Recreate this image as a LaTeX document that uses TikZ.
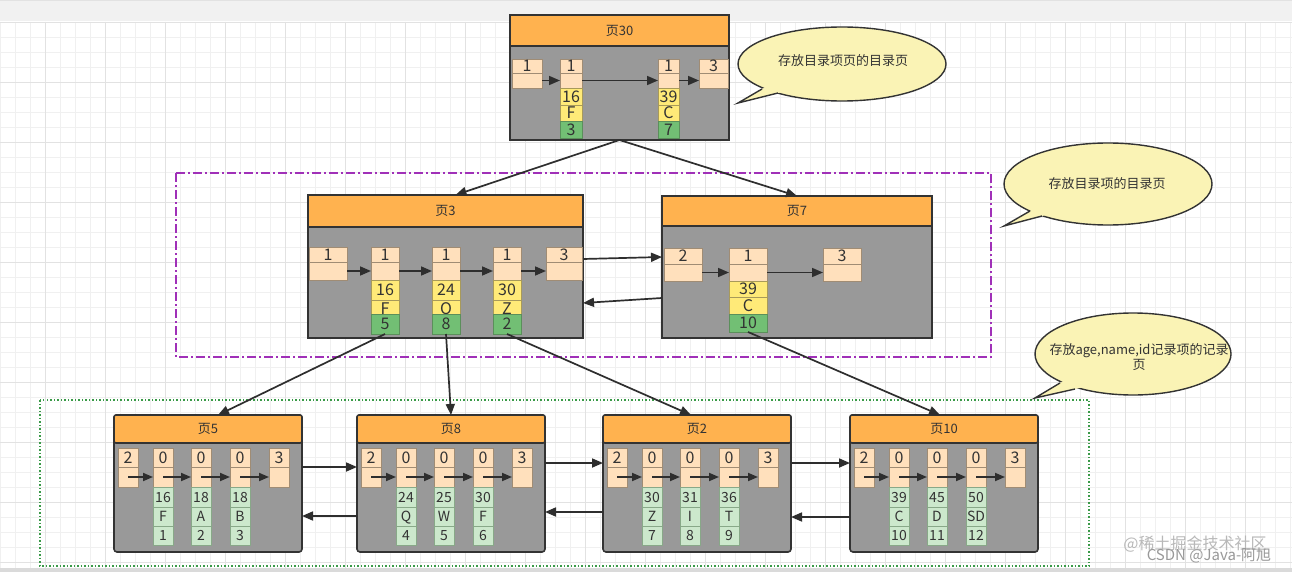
\documentclass[tikz,border=0pt]{standalone}
\usepackage{fontspec}
\setmainfont{Noto Sans CJK SC}
\usetikzlibrary{arrows.meta,calc,shapes.geometric}
\definecolor{hdrc}{HTML}{FFB24F}
\definecolor{pagec}{HTML}{999999}
\definecolor{framec}{HTML}{333333}
\definecolor{peach}{HTML}{FFE0BC}
\definecolor{peachb}{HTML}{A08C74}
\definecolor{yel}{HTML}{FFEA78}
\definecolor{yelb}{HTML}{A89A5A}
\definecolor{grn}{HTML}{72BF74}
\definecolor{grnb}{HTML}{5B8F5B}
\definecolor{lgrn}{HTML}{CCE8CC}
\definecolor{lgrnb}{HTML}{88A888}
\definecolor{callc}{HTML}{FAF3B5}
\definecolor{purp}{HTML}{A030B8}
\definecolor{dgreen}{HTML}{3A9A48}
\definecolor{arrc}{HTML}{2E2E2E}
\definecolor{txtc}{HTML}{333333}
\definecolor{gridmin}{HTML}{F0F0F0}
\definecolor{gridmaj}{HTML}{E2E2E2}
\definecolor{topband}{HTML}{F1F1F1}
\definecolor{botband}{HTML}{DADADA}

\newcommand{\mkcell}[7]{%
  \pgfmathsetmacro\cellw{#5-(#3)}\pgfmathsetmacro\cellh{#6-(#4)}%
  \node[#2,minimum width=\cellw pt,minimum height=\cellh pt,anchor=north west] (#1) at (#3,#4) {#7};}

% directory column: name, x1, x2, ytop, top text, yellow1, yellow2, green
\newcommand{\dircol}[8]{%
  \pgfmathsetmacro\yA{#4+\hA}\pgfmathsetmacro\yB{\yA+\hB}\pgfmathsetmacro\yC{\yB+\hC}%
  \pgfmathsetmacro\yD{\yC+\hD}\pgfmathsetmacro\yE{\yD+\hE}%
  \mkcell{#1a}{pc}{#2}{#4}{#3}{\yA}{#5}%
  \mkcell{#1b}{pc}{#2}{\yA}{#3}{\yB}{}%
  \mkcell{#1c}{yc}{#2}{\yB}{#3}{\yC}{#6}%
  \mkcell{#1d}{yc}{#2}{\yC}{#3}{\yD}{#7}%
  \mkcell{#1e}{gc}{#2}{\yD}{#3}{\yE}{#8}}

% record page: name, left, title
\newcommand{\recpage}[3]{%
  \pgfmathsetmacro\bxr{#2+188}%
  \mkcell{#1}{pagebox,rounded corners=3pt}{#2}{415}{\bxr}{552}{}%
  \mkcell{#1h}{hdr,rounded corners=2pt}{#2}{415}{\bxr}{443}{#3}%
  \pgfmathsetmacro\bxa{#2+4}\pgfmathsetmacro\bxb{#2+24}%
  \mkcell{#1la}{pc}{\bxa}{448}{\bxb}{467}{2}%
  \mkcell{#1lb}{pc}{\bxa}{467}{\bxb}{487}{}%
  \pgfmathsetmacro\bxa{#2+155}\pgfmathsetmacro\bxb{#2+175}%
  \mkcell{#1ra}{pc}{\bxa}{448}{\bxb}{467}{3}%
  \mkcell{#1rb}{pc}{\bxa}{467}{\bxb}{487}{}}

% record column: name, x1, g1, g2, g3
\newcommand{\reccol}[5]{%
  \pgfmathsetmacro\bxc{#2+20}%
  \mkcell{#1a}{pc}{#2}{448}{\bxc}{467}{0}%
  \mkcell{#1b}{pc}{#2}{467}{\bxc}{487}{}%
  \mkcell{#1c}{lg}{#2}{487}{\bxc}{507}{#3}%
  \mkcell{#1d}{lg}{#2}{507}{\bxc}{526}{#4}%
  \mkcell{#1e}{lg}{#2}{526}{\bxc}{545}{#5}}

\newcommand{\recarrows}[1]{%
  \draw[sarr] (#1lb.center) -- (#1c1b.west);
  \draw[sarr] (#1c1b.center) -- (#1c2b.west);
  \draw[sarr] (#1c2b.center) -- (#1c3b.west);
  \draw[sarr] (#1c3b.center) -- (#1rb.west);}

% bubble: name, cx, cy, w, h, b1, tip, b2
\newcommand{\bubble}[8]{%
  \node[ellipse,fill=callc,draw=framec,line width=1.4pt,inner sep=0pt,
        minimum width=#4pt,minimum height=#5pt] (#1) at (#2,#3) {};
  \fill[callc] ($(#7)!1.3!(#6)$) -- (#7) -- ($(#7)!1.3!(#8)$) -- cycle;
  \draw[framec,line width=1.4pt,line join=miter] (#6) -- (#7) -- (#8);}

\begin{document}
\begin{tikzpicture}[x=1pt,y=-1pt,
  cellbase/.style={inner sep=0pt,outer sep=0pt,line width=0.8pt,text=txtc},
  pc/.style={cellbase,fill=peach,draw=peachb,font=\fontsize{16}{18}\selectfont,text height=11.5pt,text depth=0pt},
  yc/.style={cellbase,fill=yel,draw=yelb,font=\fontsize{16}{18}\selectfont,text height=11.5pt,text depth=0pt},
  gc/.style={cellbase,fill=grn,draw=grnb,font=\fontsize{16}{18}\selectfont,text height=11.5pt,text depth=0pt},
  lg/.style={cellbase,fill=lgrn,draw=lgrnb,font=\fontsize{14}{16}\selectfont,text height=10pt,text depth=0pt},
  pagebox/.style={fill=pagec,draw=framec,line width=1.6pt,inner sep=0pt,outer sep=0pt},
  hdr/.style={fill=hdrc,draw=framec,line width=1.6pt,inner sep=0pt,outer sep=0pt,font=\fontsize{13}{15}\selectfont,text=txtc},
  arr/.style={draw=arrc,line width=1.7pt,-{Triangle[length=11pt,width=9pt]}},
  sarr/.style={draw=arrc,line width=1.8pt,-{Triangle[length=10pt,width=8pt]}},
  btext/.style={font=\fontsize{13}{15}\selectfont,text=txtc,inner sep=0pt,align=center},
  wm/.style={inner sep=0pt,font=\fontsize{16}{18}\selectfont},
]
\useasboundingbox (0,0) rectangle (1292,572);
\fill[white] (0,0) rectangle (1292,572);
\fill[topband] (0,0) rectangle (1292,21);
\draw[gridmaj,line width=0.8pt] (0,0.5) -- (1292,0.5);
\foreach \i in {0,15,...,1290} \draw[gridmin,line width=0.7pt] (\i,22) -- (\i,568);
\foreach \j in {22,37,...,567} \draw[gridmin,line width=0.7pt] (0,\j) -- (1292,\j);
\foreach \i in {45,105,...,1290} \draw[gridmaj,line width=0.7pt] (\i,22) -- (\i,568);
\foreach \j in {22,82,...,567} \draw[gridmaj,line width=0.7pt] (0,\j) -- (1292,\j);
\fill[botband] (0,568) rectangle (1292,572);

% group frames
\draw[purp,line width=1.3pt,dash pattern=on 9pt off 3pt on 2pt off 3pt] (176,173) rectangle (991,357);
\draw[dgreen,line width=1.4pt,dash pattern=on 1.5pt off 2pt] (40,400) rectangle (1089,566);

% ---------- page 30 ----------
\mkcell{p30}{pagebox}{510}{15}{729}{140}{}
\mkcell{p30h}{hdr}{510}{15}{729}{46}{页30}
\mkcell{t1a}{pc}{512}{59}{542}{73}{1}
\mkcell{t1b}{pc}{512}{73}{542}{88}{}
\def\hA{14}\def\hB{15}\def\hC{17}\def\hD{16}\def\hE{17}
\dircol{tA}{560}{582}{59}{1}{16}{F}{3}
\dircol{tB}{658}{679}{59}{1}{39}{C}{7}
\mkcell{t3a}{pc}{699}{59}{728}{73}{3}
\mkcell{t3b}{pc}{699}{73}{728}{88}{}
\draw[arr] (t1b) -- (tAb);
\draw[arr] (tAb) -- (tBb);
\draw[arr] (tBb) -- (t3b);

% ---------- page 3 ----------
\mkcell{p3}{pagebox}{308}{195}{583}{338}{}
\mkcell{p3h}{hdr}{308}{195}{583}{227}{页3}
\mkcell{m1a}{pc}{309}{247}{347}{262}{1}
\mkcell{m1b}{pc}{309}{262}{347}{280}{}
\def\hA{15}\def\hB{18}\def\hC{20}\def\hD{14}\def\hE{20}
\dircol{mA}{371}{399}{247}{1}{16}{\raisebox{-2pt}{F}}{5}
\dircol{mB}{432}{460}{247}{1}{24}{\raisebox{-2pt}{O}}{8}
\dircol{mC}{493}{521}{247}{1}{30}{\raisebox{-2pt}{Z}}{2}
\mkcell{m3a}{pc}{546}{247}{582}{262}{3}
\mkcell{m3b}{pc}{546}{262}{582}{280}{}
\draw[arr] (m1b) -- (mAb);
\draw[arr] (mAb) -- (mBb);
\draw[arr] (mBb) -- (mCb);
\draw[arr] (mCb) -- (m3b);

% ---------- page 7 ----------
\mkcell{p7}{pagebox}{662}{196}{932}{338}{}
\mkcell{p7h}{hdr}{662}{196}{932}{226}{页7}
\mkcell{s1a}{pc}{664}{248}{702}{264}{2}
\mkcell{s1b}{pc}{664}{264}{702}{281}{}
\def\hA{16}\def\hB{17}\def\hC{16}\def\hD{17}\def\hE{18}
\dircol{sA}{729}{767}{248}{1}{39}{C}{10}
\mkcell{s3a}{pc}{823}{248}{861}{264}{3}
\mkcell{s3b}{pc}{823}{264}{861}{281}{}
\draw[arr] (s1b) -- (sAb);
\draw[arr] (sAb) -- (s3b);

% ---------- record pages ----------
\recpage{pf}{114}{页5}
\reccol{pfc1}{153}{16}{F}{1}
\reccol{pfc2}{191}{18}{A}{2}
\reccol{pfc3}{230}{18}{B}{3}
\recarrows{pf}

\recpage{pe}{357}{页8}
\reccol{pec1}{396}{24}{Q}{4}
\reccol{pec2}{434}{25}{W}{5}
\reccol{pec3}{473}{30}{F}{6}
\recarrows{pe}

\recpage{pt}{603}{页2}
\reccol{ptc1}{642}{30}{Z}{7}
\reccol{ptc2}{680}{31}{I}{8}
\reccol{ptc3}{719}{36}{T}{9}
\recarrows{pt}

\recpage{pz}{850}{页10}
\reccol{pzc1}{889}{39}{C}{10}
\reccol{pzc2}{927}{45}{D}{11}
\reccol{pzc3}{966}{50}{SD}{12}
\recarrows{pz}

% ---------- links between pages ----------
\draw[arr] (p30.south) -- ([xshift=10pt]p3h.north);
\draw[arr] (p30.south) -- (p7h.north);
\draw[arr] ([yshift=-64pt]p3.north east) -- ([yshift=-61pt]p7.north west);
\draw[arr] ([yshift=-102pt]p7.north west) -- ([yshift=-108pt]p3.north east);
\draw[arr] (mAe.south) -- ([xshift=10pt]pfh.north);
\draw[arr] (mBe.south) -- (peh.north);
\draw[arr] (mCe.south) -- ([xshift=-6pt]pth.north);
\draw[arr] (sAe.south) -- ([xshift=-4pt]pzh.north);

\draw[arr] ([yshift=-52pt]pf.north east) -- ([yshift=-52pt]pe.north west);
\draw[arr] ([yshift=-101pt]pe.north west) -- ([yshift=-101pt]pf.north east);
\draw[arr] ([yshift=-48pt]pe.north east) -- ([yshift=-48pt]pt.north west);
\draw[arr] ([yshift=-97pt]pt.north west) -- ([yshift=-97pt]pe.north east);
\draw[arr] ([yshift=-48pt]pt.north east) -- ([yshift=-48pt]pz.north west);
\draw[arr] ([yshift=-102pt]pz.north west) -- ([yshift=-102pt]pt.north east);

% ---------- bubbles ----------
\bubble{bA}{842}{64}{208}{74}{762,89}{738,103}{778,93}
\node[btext] (bAt) at (843,61) {存放目录项页的目录页};
\bubble{bB}{1108}{184}{208}{82}{1030,211}{1004,226}{1042,216}
\node[btext] (bBt) at (1107,184) {存放目录项的目录页};
\bubble{bC}{1133}{354}{196}{82}{1060,383}{1035,398}{1075,389}
\node[btext,font=\fontsize{13}{15}\selectfont] (bCt) at (1139,357) {存放age,name,id记录项的记录\\页};

% ---------- watermark ----------
\node[wm,text=black!28] (wm1) at (1195,544) {@稀土掘金技术社区};
\node[wm,text=black!40,font=\fontsize{15}{17}\selectfont] (wm2) at (1209,555) {CSDN @Java-阿旭};
\end{tikzpicture}
\end{document}
